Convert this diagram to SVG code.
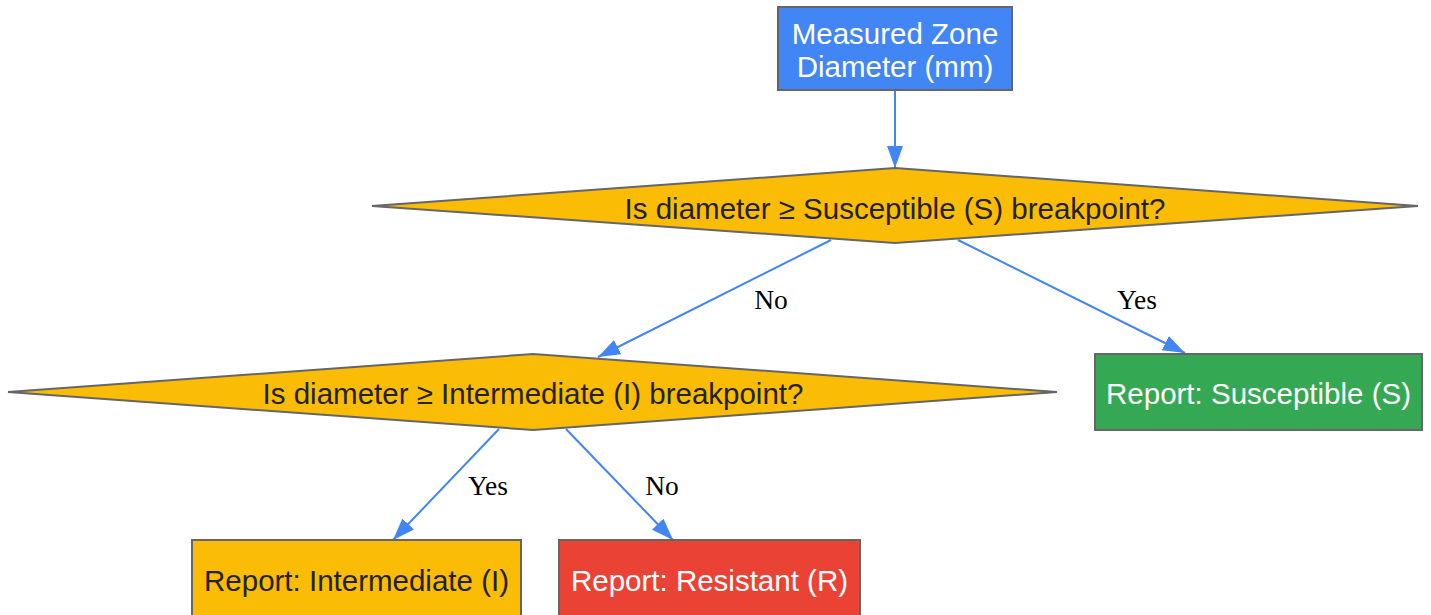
<svg xmlns="http://www.w3.org/2000/svg" width="1431" height="615" viewBox="0 0 1431 615">
<style>
.box{stroke:#666666;stroke-width:2}
.t{font-family:"Liberation Sans",Arial,sans-serif;font-size:29.5px;text-anchor:middle}
.w{fill:#ffffff}
.d{fill:#222222}
.e{fill:none;stroke:#4285F4;stroke-width:2}
.lbl{font-family:"Liberation Serif","Times New Roman",serif;font-size:27.5px;text-anchor:middle;fill:#000000}
</style>
<defs>
<marker id="arr" markerUnits="userSpaceOnUse" markerWidth="24" markerHeight="18" refX="22" refY="8" orient="auto" viewBox="0 0 24 18">
<path d="M0,0 L22,8 L0,16 z" fill="#4285F4"/>
</marker>
</defs>
<rect width="1431" height="615" fill="#ffffff"/>
<g id="connectors">
<line class="e" x1="895" y1="91" x2="895" y2="168" marker-end="url(#arr)"/>
<line class="e" x1="831" y1="240" x2="598" y2="357" marker-end="url(#arr)"/>
<line class="e" x1="958" y1="240" x2="1185" y2="353" marker-end="url(#arr)"/>
<line class="e" x1="499" y1="429" x2="393" y2="540" marker-end="url(#arr)"/>
<line class="e" x1="566" y1="429" x2="673" y2="540" marker-end="url(#arr)"/>
<text class="lbl" x="771" y="309">No</text>
<text class="lbl" x="1137" y="309">Yes</text>
<text class="lbl" x="488" y="495">Yes</text>
<text class="lbl" x="662" y="495">No</text>
</g>
<g id="start">
<rect class="box" x="778" y="7" width="234" height="83" fill="#4285F4"/>
<text class="t w" x="895" y="44">Measured Zone</text>
<text class="t w" x="895" y="77">Diameter (mm)</text>
</g>
<g id="decision1">
<polygon class="box" points="372,206 895,168 1418,206 895,243" fill="#FBBC05"/>
<text class="t d" x="895" y="219">Is diameter ≥ Susceptible (S) breakpoint?</text>
</g>
<g id="decision2">
<polygon class="box" points="8,392 533,354 1057,392 533,430" fill="#FBBC05"/>
<text class="t d" x="533" y="404">Is diameter ≥ Intermediate (I) breakpoint?</text>
</g>
<g id="susceptible">
<rect class="box" x="1095" y="354" width="327" height="76" fill="#34A853"/>
<text class="t w" x="1258.5" y="404">Report: Susceptible (S)</text>
</g>
<g id="intermediate">
<rect class="box" x="192" y="540" width="329" height="82" fill="#FBBC05"/>
<text class="t d" x="356.5" y="591">Report: Intermediate (I)</text>
</g>
<g id="resistant">
<rect class="box" x="559" y="540" width="301" height="82" fill="#EA4335"/>
<text class="t w" x="709.5" y="591">Report: Resistant (R)</text>
</g>
</svg>
